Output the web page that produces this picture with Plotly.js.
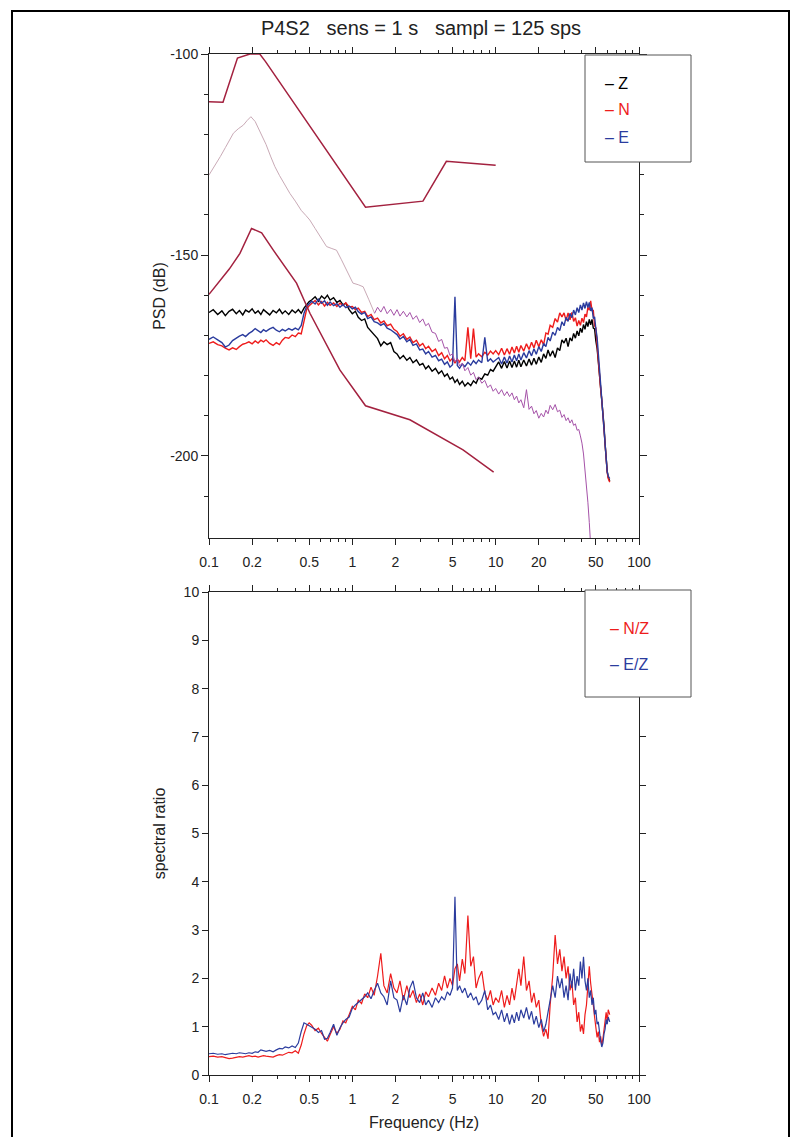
<!DOCTYPE html>
<html>
<head>
<meta charset="utf-8">
<script src="https://cdn.plot.ly/plotly-3.0.1.min.js"></script>
<style>
html,body{margin:0;padding:0;background:#fff;}
#chart{width:800px;height:1137px;}
</style>
</head>
<body>
<div id="chart"></div>
<script>
// ---------- DATA ----------
const freq = [
 0.1,0.107,0.115,0.123,0.13,0.138,0.146,0.155,0.163,0.172,0.18,0.19,0.2,0.21,0.22,0.23,0.24,0.25,0.265,0.28,0.295,0.31,0.325,0.34,0.36,0.38,0.4,0.42,0.44,0.46,0.48,0.5,
 0.52,0.55,0.58,0.61,0.64,0.67,0.7,0.74,0.78,0.82,0.86,0.9,0.95,1.0,1.05,1.1,1.16,1.22,1.28,1.35,1.42,1.5,1.58,1.66,1.75,1.85,1.95,
 2.05,2.15,2.27,2.4,2.52,2.65,2.8,2.95,3.1,3.25,3.4,3.6,3.8,4.0,4.2,4.4,4.6,4.8,5.0,5.2,5.4,5.6,5.85,6.1,6.4,6.7,7.0,7.3,7.6,8.0,8.4,8.8,9.2,9.6,10,
 10.5,11,11.5,12,12.5,13,13.5,14,14.5,15,15.7,16.4,17.1,17.8,18.5,19.2,20,20.8,21.6,22.4,23.2,24,25,26,27,28,29,30,31,32,33,34,35,36,37,38,39,40,41,42,43,44,45,46,47,48,49,50,51,52,53,54,55,56,57,58,59,60,61,62.5
];
const psdZ = [
 -164.3,-163.6,-164.8,-163.9,-165.1,-164.0,-163.5,-164.6,-163.8,-164.9,-163.7,-164.2,-163.4,-164.5,-163.9,-164.8,-163.6,-164.1,-164.9,-163.8,-164.4,-163.5,-164.6,-163.9,-164.8,-163.7,-164.4,-163.6,-164.5,-163.2,-162.4,-161.6,
 -161.2,-160.4,-161.5,-160.2,-160.9,-160.0,-161.2,-160.6,-161.8,-161.3,-162.4,-162.0,-163.6,-164.6,-164.0,-165.5,-166.3,-165.9,-168.0,-168.9,-170.0,-170.8,-172.6,-171.6,-172.3,-171.8,-174.0,
 -174.6,-175.8,-175.0,-176.2,-175.5,-176.8,-176.1,-177.4,-177.0,-178.3,-177.6,-178.9,-178.2,-179.5,-178.8,-180.2,-179.6,-180.9,-180.4,-181.7,-181.0,-182.2,-181.4,-182.6,-181.8,-182.5,-181.3,-181.9,-180.5,-180.9,-179.6,-179.9,-178.5,-178.9,-177.8,
 -176.6,-178.2,-176.5,-178.1,-176.4,-178.0,-176.4,-177.9,-176.2,-177.8,-176.1,-177.6,-175.9,-177.4,-175.7,-177.2,-175.4,-176.7,-174.6,-175.7,-173.6,-175.2,-173.8,-175.5,-173.1,-173.8,-171.1,-171.9,-170.7,-172.8,-170.6,-171.4,-169.5,-170.7,-168.9,-170.1,-168.2,-169.3,-167.3,-168.5,-166.6,-167.8,-166.0,-167.4,-166.0,-168.2,-168.4,-171.4,-173.2,-176.5,-179.8,-182.6,-185.0,-188.5,-192.5,-197.0,-201.2,-203.8,-205.3,-206.2
];
const psdN = [
 -172.0,-171.6,-172.3,-172.6,-173.2,-173.6,-173.1,-173.5,-172.8,-172.2,-172.0,-171.6,-172.1,-171.4,-171.9,-171.2,-171.6,-171.1,-172.0,-172.5,-171.8,-172.3,-171.2,-170.5,-170.7,-169.9,-170.3,-169.4,-169.6,-166.0,-163.5,-162.6,
 -162.0,-161.3,-162.4,-161.6,-162.7,-161.8,-162.5,-161.9,-162.8,-162.0,-162.6,-161.9,-162.9,-162.8,-163.6,-163.2,-164.3,-164.0,-165.3,-164.8,-166.1,-165.7,-166.9,-166.4,-167.6,-167.2,-168.5,
 -169.0,-170.2,-169.6,-171.0,-170.4,-171.8,-171.2,-172.6,-172.0,-173.3,-172.7,-174.0,-173.4,-175.0,-174.3,-175.8,-175.0,-176.4,-175.7,-176.9,-175.9,-176.6,-175.5,-176.3,-168.0,-175.8,-168.3,-175.4,-174.6,-175.3,-174.2,-174.9,-173.9,-174.6,-173.8,
 -174.8,-173.2,-174.9,-173.3,-174.7,-172.9,-174.4,-172.7,-174.2,-172.5,-173.9,-172.1,-173.5,-171.7,-173.1,-171.2,-172.8,-171.1,-172.3,-169.4,-169.7,-167.5,-168.0,-165.8,-166.7,-164.4,-165.4,-164.4,-166.3,-164.4,-166.1,-164.3,-166.5,-165.6,-167.7,-166.3,-167.5,-165.7,-166.8,-164.7,-165.4,-163.0,-163.7,-161.4,-163.8,-163.8,-167.6,-168.1,-172.3,-177.0,-180.5,-183.3,-186.0,-189.5,-193.5,-197.6,-201.6,-204.1,-205.6,-206.5
];
const psdE = [
 -171.0,-170.4,-171.1,-171.8,-172.9,-172.4,-171.3,-170.6,-170.2,-169.8,-170.3,-169.5,-169.0,-168.3,-168.8,-169.3,-168.6,-169.0,-168.4,-168.0,-168.7,-169.1,-168.5,-168.9,-168.3,-168.7,-168.2,-168.6,-167.5,-164.5,-162.8,-162.0,
 -161.5,-162.2,-161.0,-162.0,-161.4,-162.5,-161.7,-162.6,-162.1,-163.0,-162.3,-163.1,-162.7,-163.4,-163.0,-164.1,-164.7,-164.3,-165.8,-165.4,-166.6,-166.9,-167.5,-167.0,-168.2,-168.6,-169.3,
 -169.8,-170.9,-170.3,-171.6,-171.0,-172.5,-172.1,-173.6,-173.4,-174.6,-174.0,-175.4,-175.0,-176.3,-175.9,-177.2,-176.6,-177.9,-177.3,-160.4,-177.5,-178.2,-177.1,-177.8,-176.7,-177.4,-176.3,-177.0,-176.1,-176.8,-170.5,-176.5,-175.8,-176.6,-176.0,
 -175.5,-177.1,-175.4,-176.9,-175.1,-176.6,-174.9,-176.3,-174.6,-176.1,-174.3,-175.6,-173.8,-175.1,-173.3,-174.7,-172.8,-174.0,-172.0,-172.8,-170.5,-171.4,-169.2,-170.0,-168.0,-168.8,-166.6,-167.6,-165.5,-166.5,-164.5,-165.6,-163.7,-164.9,-163.1,-164.3,-162.4,-163.7,-161.9,-163.3,-161.6,-163.1,-161.8,-163.9,-163.1,-165.8,-165.4,-168.4,-170.5,-174.4,-178.6,-182.0,-185.4,-189.2,-193.6,-197.9,-201.8,-203.9,-205.0,-205.6
];
const ratioNZ = [
 0.38,0.39,0.37,0.38,0.36,0.34,0.35,0.37,0.38,0.37,0.38,0.40,0.38,0.39,0.37,0.38,0.40,0.39,0.38,0.37,0.40,0.42,0.41,0.44,0.47,0.46,0.50,0.45,0.62,0.85,1.02,1.08,
 1.03,0.92,0.97,0.86,0.78,0.70,0.84,1.00,0.86,0.95,1.12,1.08,1.25,1.42,1.35,1.55,1.48,1.68,1.60,1.82,1.65,2.05,2.52,1.85,1.70,2.10,1.80,
 1.70,1.95,1.55,1.85,1.60,1.75,1.50,1.68,1.45,1.72,1.62,1.80,1.65,1.90,1.75,2.05,1.80,2.00,1.85,2.20,2.30,1.95,2.40,2.10,3.30,2.25,2.45,1.80,2.00,2.15,1.70,1.55,1.75,1.45,1.60,
 1.50,1.75,1.40,1.65,1.45,1.80,1.55,1.90,2.20,1.85,2.45,1.75,1.95,1.50,1.70,1.40,1.55,1.05,0.80,0.95,0.75,1.45,2.05,2.90,2.30,2.60,2.15,2.45,2.00,2.25,1.75,1.95,1.45,1.60,1.10,1.30,0.90,1.05,0.85,1.25,1.45,1.85,2.25,1.90,1.70,1.45,1.20,1.00,0.78,0.90,0.68,0.80,0.62,0.75,0.95,1.15,1.30,1.10,1.35,1.25
];
const ratioEZ = [
 0.44,0.45,0.43,0.44,0.42,0.43,0.45,0.44,0.46,0.45,0.44,0.46,0.45,0.48,0.47,0.52,0.50,0.49,0.51,0.48,0.52,0.55,0.54,0.58,0.56,0.60,0.57,0.66,0.90,1.08,1.05,1.02,
 0.98,0.95,0.88,0.92,0.74,0.76,0.88,1.05,0.82,0.98,1.08,1.15,1.20,1.38,1.45,1.50,1.55,1.62,1.70,1.58,1.75,1.90,1.70,1.62,1.45,1.95,1.60,
 1.55,1.30,1.65,1.45,1.80,1.95,1.60,1.50,1.70,1.45,1.55,1.40,1.60,1.50,1.62,1.55,1.72,1.65,1.80,3.69,1.75,1.85,1.70,1.80,1.60,1.70,1.55,1.62,1.45,1.55,1.75,1.35,1.45,1.25,1.30,
 1.15,1.35,1.10,1.28,1.05,1.25,1.08,1.30,1.12,1.35,1.18,1.40,1.15,1.32,1.05,1.22,0.98,1.15,0.90,1.05,1.30,1.55,1.85,1.60,2.05,1.80,2.00,1.60,1.85,1.55,2.10,1.80,2.20,1.75,2.05,1.85,2.35,2.00,2.45,1.95,1.75,2.00,1.60,1.75,1.45,1.60,1.25,1.35,1.05,1.10,0.82,0.70,0.58,0.66,0.85,0.95,1.15,1.05,1.20,1.10
];
// Noise models
const nhnmFreq = [0.1,0.1252,0.158,0.193,0.226,0.248,1.236,3.11,4.53,10];
const nhnmDb   = [-111.9,-112.0,-101.0,-100.0,-100.0,-101.9,-138.1,-136.6,-126.7,-127.7];
const nlnmFreq = [0.1,0.1385,0.1644,0.198,0.233,0.281,0.408,0.506,0.818,1.236,2.52,5.92,9.68];
const nlnmDb   = [-159.8,-153.5,-149.6,-143.4,-144.5,-148.8,-157.0,-164.5,-178.6,-187.5,-191.0,-198.5,-204.0];
// Reference floor curve (pale low-frequency part and purple high-frequency part)
const floorLoFreq = [0.1,0.11,0.12,0.13,0.14,0.148,0.16,0.1735,0.185,0.196,0.21,0.22,0.233,0.25,0.27,0.288,0.31,0.34,0.367,0.4,0.44,0.475,0.505,0.55,0.6,0.661,0.72,0.775,0.84,0.91,1.01,1.1,1.19,1.3,1.43];
const floorLoDb = [-130.1,-127.8,-125.5,-123.3,-121.3,-119.7,-118.6,-117.7,-116.5,-115.6,-116.8,-118.3,-120.0,-122.5,-125.6,-128.0,-130.2,-132.8,-134.7,-136.6,-138.9,-140.2,-141.3,-143.4,-145.6,-147.9,-148.4,-148.8,-151.2,-153.7,-157.0,-157.4,-157.9,-161.0,-164.5];
const floorHiFreq = [1.43,1.5,1.58,1.66,1.75,1.85,1.95,2.05,2.15,2.27,2.4,2.52,2.65,2.8,2.95,3.1,3.25,3.4,3.6,3.8,4.0,4.2,4.4,4.6,4.8,5.0,5.2,5.4,5.6,5.85,6.1,6.4,6.7,7.0,7.3,7.6,8.0,8.4,8.8,9.2,9.6,10,10.5,11,11.5,12,12.5,13,13.5,14,14.5,15,15.7,16.4,17.1,17.8,18.5,19.2,20,20.8,21.6,22.4,23.2,24,25,26,27,28,29,30,31,32,33,34,35,36,37,38,39,40,41,42,43,44,45,46,47];
const floorHiDb = [-164.5,-163.0,-164.2,-162.8,-164.6,-163.5,-165.0,-163.6,-165.2,-164.0,-165.4,-164.3,-166.0,-165.1,-166.8,-165.9,-167.6,-167.0,-169.2,-169.5,-171.5,-171.0,-173.2,-173.0,-175.0,-174.6,-176.5,-175.8,-177.6,-176.9,-178.8,-178.0,-179.9,-179.2,-181.0,-180.3,-181.9,-181.2,-183.0,-182.3,-183.9,-183.2,-184.6,-183.5,-185.0,-184.0,-185.2,-184.3,-186.0,-185.1,-186.8,-186.0,-188.0,-183.5,-188.4,-187.6,-189.5,-188.7,-190.6,-189.4,-190.3,-188.6,-189.5,-187.4,-188.5,-187.2,-189.0,-188.6,-190.4,-189.7,-191.2,-190.5,-191.8,-191.0,-192.4,-192.0,-193.6,-193.4,-195.0,-196.8,-199.5,-203.0,-207.2,-211.5,-216.5,-221.5,-228];

// Tick labels
const xTickVals = [0.1,0.2,0.5,1,2,5,10,20,50,100];
const xTickText = ['0.1','0.2','0.5','1','2','5','10','20','50','100'];
const xMinorVals = [0.3,0.4,0.6,0.7,0.8,0.9,3,4,6,7,8,9,30,40,60,70,80,90];
const psdTickVals = [-100,-150,-200];
const psdTickText = ['-100','-150','-200'];
const psdMinorVals = [-110,-120,-130,-140,-160,-170,-180,-190,-210];
const ratioTickVals = [0,1,2,3,4,5,6,7,8,9,10];

const compNames = ['Z','N','E'];
const compColors = ['#000000','#ee1c1c','#2b3c9e'];
const ratioNames = ['N/Z','E/Z'];

// ---------- LAYOUT HELPERS ----------
const W = 800, H = 1137;
const px = v => v / W;
const py = v => (H - v) / H;
const FONT = 'Liberation Sans, Arial, Helvetica, sans-serif';
const TICKFONT = {family:FONT,size:14,color:'#222'};
const TITLEFONT = {family:FONT,size:16,color:'#222'};

function xAxis(anchor, withTitle){
  const a = {
    type:'log', range:[-1,2], domain:[px(209),px(639)], anchor:anchor,
    showline:true, linecolor:'#222', linewidth:1, mirror:'ticks',
    ticks:'outside', ticklen:6, tickcolor:'#222', tickwidth:1,
    tickmode:'array', tickvals:xTickVals, ticktext:xTickText,
    tickfont:TICKFONT, ticklabelstandoff:5,
    minor:{tickmode:'array', tickvals:xMinorVals, ticks:'outside', ticklen:3, tickcolor:'#222', showgrid:false},
    showgrid:false, zeroline:false, fixedrange:true
  };
  if (withTitle) a.title = {text:'Frequency (Hz)', font:TITLEFONT, standoff:11};
  return a;
}

const traces = [];
[psdZ, psdN, psdE].forEach((arr,i)=>{
  traces.push({x:freq, y:arr, type:'scatter', mode:'lines', name:compNames[i],
    line:{color:compColors[i], width:1.4}, xaxis:'x', yaxis:'y', showlegend:false});
});
traces.push({x:floorLoFreq, y:floorLoDb, type:'scatter', mode:'lines', name:'floor (low)',
  line:{color:'#c9aab6', width:1}, xaxis:'x', yaxis:'y', showlegend:false});
traces.push({x:floorHiFreq, y:floorHiDb, type:'scatter', mode:'lines', name:'floor (high)',
  line:{color:'#a552a8', width:1}, xaxis:'x', yaxis:'y', showlegend:false});
traces.push({x:nhnmFreq, y:nhnmDb, type:'scatter', mode:'lines', name:'NHNM',
  line:{color:'#a3213f', width:1.5}, xaxis:'x', yaxis:'y', showlegend:false});
traces.push({x:nlnmFreq, y:nlnmDb, type:'scatter', mode:'lines', name:'NLNM',
  line:{color:'#a3213f', width:1.5}, xaxis:'x', yaxis:'y', showlegend:false});
[ratioNZ, ratioEZ].forEach((arr,i)=>{
  traces.push({x:freq, y:arr, type:'scatter', mode:'lines', name:ratioNames[i],
    line:{color:compColors[i+1], width:1.2}, xaxis:'x2', yaxis:'y2', showlegend:false});
});

const layout = {
  width:W, height:H,
  margin:{l:0,r:0,t:0,b:0},
  paper_bgcolor:'#ffffff', plot_bgcolor:'#ffffff',
  font:{family:FONT, color:'#222'},
  showlegend:false,
  title:{text:'P4S2\u00a0\u00a0\u00a0sens = 1 s\u00a0\u00a0\u00a0sampl = 125 sps', x:px(421), xanchor:'center',
         y:py(28), yanchor:'middle', font:{family:FONT,size:20,color:'#222'}},
  xaxis: xAxis('y', false),
  yaxis: {
    range:[-220.4,-100], domain:[py(538),py(54)], anchor:'x',
    showline:true, linecolor:'#222', linewidth:1, mirror:'ticks',
    ticks:'outside', ticklen:7, tickcolor:'#222',
    tickmode:'array', tickvals:psdTickVals, ticktext:psdTickText,
    tickfont:TICKFONT,
    minor:{tickmode:'array', tickvals:psdMinorVals, ticks:'outside', ticklen:4, tickcolor:'#222', showgrid:false},
    showgrid:false, zeroline:false, fixedrange:true,
    title:{text:'PSD (dB)', font:TITLEFONT, standoff:0}
  },
  xaxis2: xAxis('y2', true),
  yaxis2: {
    range:[0,10], domain:[py(1075),py(592)], anchor:'x2',
    showline:true, linecolor:'#222', linewidth:1, mirror:'ticks',
    ticks:'outside', ticklen:6, tickcolor:'#222',
    tickmode:'array', tickvals:ratioTickVals,
    tickfont:TICKFONT,
    showgrid:false, zeroline:false, fixedrange:true,
    title:{text:'spectral ratio', font:TITLEFONT, standoff:14}
  },
  shapes:[
    {type:'rect', xref:'paper', yref:'paper', x0:px(585), x1:px(691), y0:py(162), y1:py(55),
     line:{color:'#555', width:1}, fillcolor:'#ffffff', layer:'above'},
    {type:'rect', xref:'paper', yref:'paper', x0:px(585), x1:px(691), y0:py(697), y1:py(590),
     line:{color:'#555', width:1}, fillcolor:'#ffffff', layer:'above'},
    {type:'rect', xref:'paper', yref:'paper', x0:px(12), x1:px(789), y0:-0.02, y1:py(11),
     line:{color:'#000', width:2}, fillcolor:'rgba(0,0,0,0)', layer:'above'}
  ],
  annotations:[
    {text:'\u2013 Z', xref:'paper', yref:'paper', x:px(603), y:py(83), xanchor:'left', yanchor:'middle', showarrow:false, font:{family:FONT,size:16,color:compColors[0]}},
    {text:'\u2013 N', xref:'paper', yref:'paper', x:px(603), y:py(109), xanchor:'left', yanchor:'middle', showarrow:false, font:{family:FONT,size:16,color:compColors[1]}},
    {text:'\u2013 E', xref:'paper', yref:'paper', x:px(603), y:py(137), xanchor:'left', yanchor:'middle', showarrow:false, font:{family:FONT,size:16,color:compColors[2]}},
    {text:'\u2013 N/Z', xref:'paper', yref:'paper', x:px(608), y:py(628), xanchor:'left', yanchor:'middle', showarrow:false, font:{family:FONT,size:16,color:compColors[1]}},
    {text:'\u2013 E/Z', xref:'paper', yref:'paper', x:px(608), y:py(664), xanchor:'left', yanchor:'middle', showarrow:false, font:{family:FONT,size:16,color:compColors[2]}}
  ]
};

Plotly.newPlot('chart', traces, layout, {staticPlot:true, displayModeBar:false});
</script>
</body>
</html>
